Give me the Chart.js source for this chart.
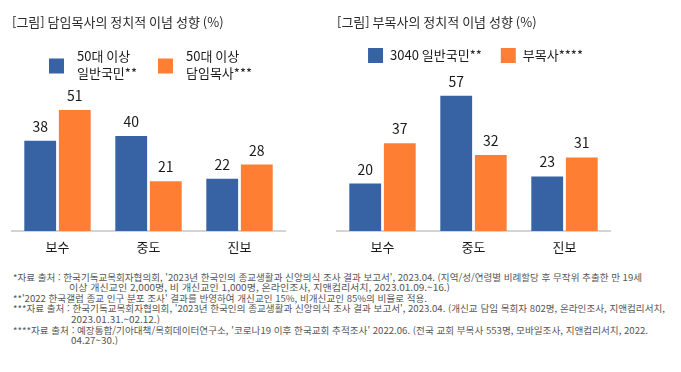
<!DOCTYPE html>
<html lang="ko">
<head>
<meta charset="utf-8">
<script src="https://cdn.jsdelivr.net/npm/chart.js@4.4.1/dist/chart.umd.min.js"></script>
<style>
  body { margin: 0; background: #fff; }
  #wrap { position: relative; width: 681px; height: 372px; overflow: hidden; font-family: "Noto Sans CJK KR", sans-serif; }
  canvas { position: absolute; top: 0; }
  #chart1 { left: 0; }
  #chart2 { left: 326px; }
  .note { position: absolute; white-space: nowrap; font-size: 9.2px; line-height: 10px; color: #555; transform-origin: 0 50%; }
</style>
</head>
<body>
<div id="wrap">
  <canvas id="chart1" width="340" height="269"></canvas>
  <canvas id="chart2" width="340" height="269"></canvas>
  <div id="notes"></div>
</div>
<script>
// 데이터
const categories = ['보수', '중도', '진보'];

const seniorTitle = '[그림] 담임목사의 정치적 이념 성향 (%)';
const seniorLabels = [['50대 이상', '일반국민**'], ['50대 이상', '담임목사***']];
const seniorGeneral = [38, 40, 22];
const seniorPastor = [51, 21, 28];

const assocTitle = '[그림] 부목사의 정치적 이념 성향 (%)';
const assocLabels = ['3040 일반국민**', '부목사****'];
const assocGeneral = [20, 57, 23];
const assocPastor = [37, 32, 31];

const noteTexts = [
  "*자료 출처 : 한국기독교목회자협의회, '2023년 한국인의 종교생활과 신앙의식 조사 결과 보고서', 2023.04. (지역/성/연령별 비례할당 후 무작위 추출한 만 19세",
  "이상 개신교인 2,000명, 비 개신교인 1,000명, 온라인조사, 지앤컴리서치, 2023.01.09.~16.)",
  "**'2022 한국갤럽 종교 인구 분포 조사' 결과를 반영하여 개신교인 15%, 비개신교인 85%의 비율로 적용.",
  "***자료 출처 : 한국기독교목회자협의회, '2023년 한국인의 종교생활과 신앙의식 조사 결과 보고서', 2023.04. (개신교 담임 목회자 802명, 온라인조사, 지앤컴리서치,",
  "2023.01.31.~02.12.)",
  "****자료 출처 : 예장통합/기아대책/목회데이터연구소, '코로나19 이후 한국교회 추적조사' 2022.06. (전국 교회 부목사 553명, 모바일조사, 지앤컴리서치, 2022.",
  "04.27~30.)"
];
// 각주 위치 [left, right, centerY]
const noteBoxes = [
  [13, 642, 277], [69, 450, 287], [13, 427, 298], [13, 665, 308],
  [71, 160, 319], [13, 648, 330], [71, 118, 340]
];

const BLUE = '#3763a4';
const ORANGE = '#fe7f34';
const FONT = '"Noto Sans CJK KR", sans-serif';
Chart.defaults.font.family = FONT;

// 막대 위 값 표시
const valueLabels = {
  id: 'valueLabels',
  afterDatasetsDraw(chart) {
    const ctx = chart.ctx;
    ctx.save();
    ctx.font = '14px ' + FONT;
    ctx.fillStyle = '#1a1a1a';
    ctx.textAlign = 'center';
    ctx.textBaseline = 'alphabetic';
    chart.data.datasets.forEach((ds, i) => {
      chart.getDatasetMeta(i).data.forEach((bar, j) => {
        ctx.fillText(ds.data[j], bar.x, bar.y - 9);
      });
    });
    ctx.restore();
  }
};

// 범례 (여러 줄 라벨 지원)
const boxLegend = {
  id: 'boxLegend',
  afterDraw(chart, args, opts) {
    const ctx = chart.ctx;
    const area = chart.chartArea;
    const box = 15, lineH = 17;
    ctx.save();
    ctx.font = '13px ' + FONT;
    const items = chart.data.datasets.map(ds => {
      const lines = [].concat(ds.label);
      return { lines, color: ds.backgroundColor, w: Math.max(...lines.map(l => ctx.measureText(l).width)) };
    });
    const total = items.reduce((s, it) => s + box + opts.gap + it.w, 0) + opts.spacing * (items.length - 1);
    let x = (area.left + area.right) / 2 - total / 2 + opts.shift;
    items.forEach(it => {
      ctx.fillStyle = it.color;
      ctx.fillRect(x, opts.y - box / 2, box, box);
      ctx.fillStyle = '#1a1a1a';
      ctx.textBaseline = 'middle';
      const y0 = opts.y + opts.textShift - (it.lines.length - 1) * lineH / 2;
      it.lines.forEach((l, i) => ctx.fillText(l, x + box + opts.gap, y0 + i * lineH));
      x += box + opts.gap + it.w + opts.spacing;
    });
    ctx.restore();
  }
};

function makeChart(id, title, labels, first, second, padLeft, legendOpts) {
  return new Chart(document.getElementById(id), {
    type: 'bar',
    data: {
      labels: categories,
      datasets: [
        { label: labels[0], data: first, backgroundColor: BLUE },
        { label: labels[1], data: second, backgroundColor: ORANGE }
      ]
    },
    options: {
      responsive: false,
      animation: false,
      layout: { padding: { left: padLeft, right: 340 - padLeft - 273, top: 0, bottom: 6.4 } },
      datasets: { bar: { categoryPercentage: 0.76, barPercentage: 0.92 } },
      scales: {
        x: {
          grid: { display: false, drawTicks: false },
          border: { color: '#d4d4d4', width: 2 },
          ticks: { color: '#1a1a1a', font: { size: 13 }, padding: 8 }
        },
        y: { display: false, min: 0, max: 60 }
      },
      plugins: {
        legend: { display: false },
        tooltip: { enabled: false },
        title: {
          display: true, text: title, align: 'start', color: '#2a2a2a',
          font: { size: 13, weight: 'normal' }, padding: { top: 14, bottom: 59 }
        },
        boxLegend: legendOpts
      }
    },
    plugins: [valueLabels, boxLegend]
  });
}

makeChart('chart1', seniorTitle, seniorLabels, seniorGeneral, seniorPastor, 12,
  { y: 66, textShift: -1.5, gap: 13, spacing: 21, shift: 2 });
makeChart('chart2', assocTitle, assocLabels, assocGeneral, assocPastor, 11,
  { y: 55.5, textShift: 0, gap: 7, spacing: 19, shift: 2 });

// 각주
const notesEl = document.getElementById('notes');
noteTexts.forEach((t, i) => {
  const d = document.createElement('div');
  d.className = 'note';
  d.textContent = t;
  d.style.left = noteBoxes[i][0] + 'px';
  d.style.top = (noteBoxes[i][2] - 5) + 'px';
  notesEl.appendChild(d);
  const w = d.getBoundingClientRect().width;
  d.style.transform = 'scaleX(' + ((noteBoxes[i][1] - noteBoxes[i][0]) / w) + ')';
});
</script>
</body>
</html>
